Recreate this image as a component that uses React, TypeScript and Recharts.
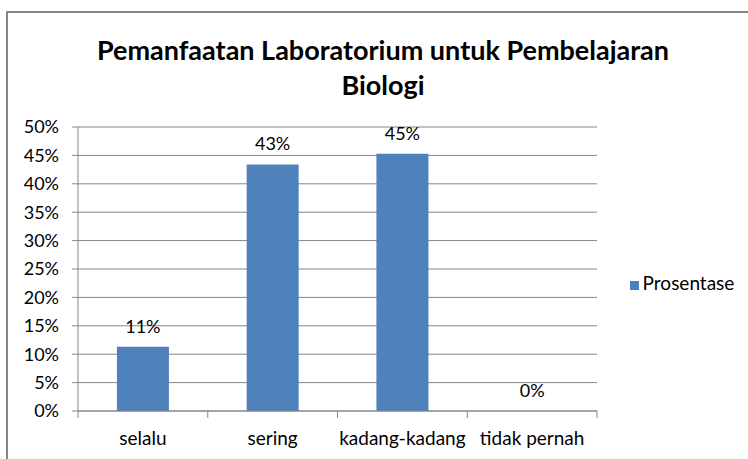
import { Bar, CartesianGrid, ComposedChart, LabelList, Legend, Line, XAxis, YAxis } from "recharts";

const categories = ["selalu", "sering", "kadang-kadang", "tidak pernah"];
const prosentase = [11.3, 43.4, 45.3, 0];
const yTicks = [0, 5, 10, 15, 20, 25, 30, 35, 40, 45, 50];
const boundaryTicks = [0, 1, 2, 3, 4];

const data = categories.map((name, i) => ({ name, idx: i + 0.5, Prosentase: prosentase[i] }));

const FONT = "Lato, 'Open Sans', sans-serif";
const GRID = "#868686";

export default function App() {
  return (
    <div style={{ position: "fixed", left: 0, top: 0, width: 748, height: 459, background: "#fff", overflow: "hidden", fontFamily: FONT }}>
      {/* frame of the chart object, cut off on the right and bottom */}
      <div style={{ position: "absolute", left: 6, top: 11, width: 800, height: 500, border: `2px solid ${GRID}` }} />

      <div
        style={{
          position: "absolute",
          left: 83,
          top: 32,
          width: 600,
          textAlign: "center",
          fontWeight: 700,
          fontSize: 27,
          lineHeight: "35px",
          color: "#000",
        }}
      >
        Pemanfaatan Laboratorium untuk Pembelajaran
        <br />
        Biologi
      </div>

      <ComposedChart
        width={748}
        height={459}
        data={data}
        margin={{ top: 127, right: 151, left: 0, bottom: 0 }}
        barCategoryGap="30%"
        style={{ position: "absolute", left: 0, top: 0 }}
      >
        <CartesianGrid horizontal vertical={false} stroke={GRID} />
        <XAxis
          dataKey="name"
          height={48}
          interval={0}
          tickLine={false}
          axisLine={{ stroke: GRID }}
          tickMargin={15}
          tick={{ fill: "#000", fontSize: 19, fontFamily: FONT }}
        />
        {/* tick marks between categories, as in the original (mirrored so it sits on the plot edge) */}
        <XAxis
          xAxisId="bounds"
          type="number"
          dataKey="idx"
          domain={[0, 4]}
          ticks={boundaryTicks}
          interval={0}
          mirror
          height={1}
          tickFormatter={() => ""}
          tickSize={-7}
          tickLine={{ stroke: GRID }}
          axisLine={false}
        />
        <YAxis
          width={78}
          domain={[0, 50]}
          ticks={yTicks}
          interval={0}
          tickSize={6}
          tickMargin={13}
          tickLine={{ stroke: GRID }}
          axisLine={{ stroke: GRID }}
          tickFormatter={(v) => `${v}%`}
          tick={{ fill: "#000", fontSize: 18, fontFamily: FONT }}
        />
        <Legend
          layout="horizontal"
          verticalAlign="middle"
          align="center"
          iconType="square"
          iconSize={9}
          wrapperStyle={{ left: 625, top: 271, width: 124, height: 24, fontSize: 19 }}
          formatter={(value) => <span style={{ color: "#000", fontFamily: FONT, fontSize: 19 }}>{value}</span>}
        />
        <Bar dataKey="Prosentase" fill="#4F81BD" isAnimationActive={false} />
        {/* invisible series carrying the value labels, so the 0% label is drawn too */}
        <Line
          dataKey="Prosentase"
          stroke="none"
          dot={false}
          activeDot={false}
          legendType="none"
          isAnimationActive={false}
        >
          <LabelList
            dataKey="Prosentase"
            position="top"
            offset={14}
            formatter={(v: any) => `${Math.round(v)}%`}
            style={{ fill: "#000", fontSize: 18, fontFamily: FONT }}
          />
        </Line>
      </ComposedChart>
    </div>
  );
}
